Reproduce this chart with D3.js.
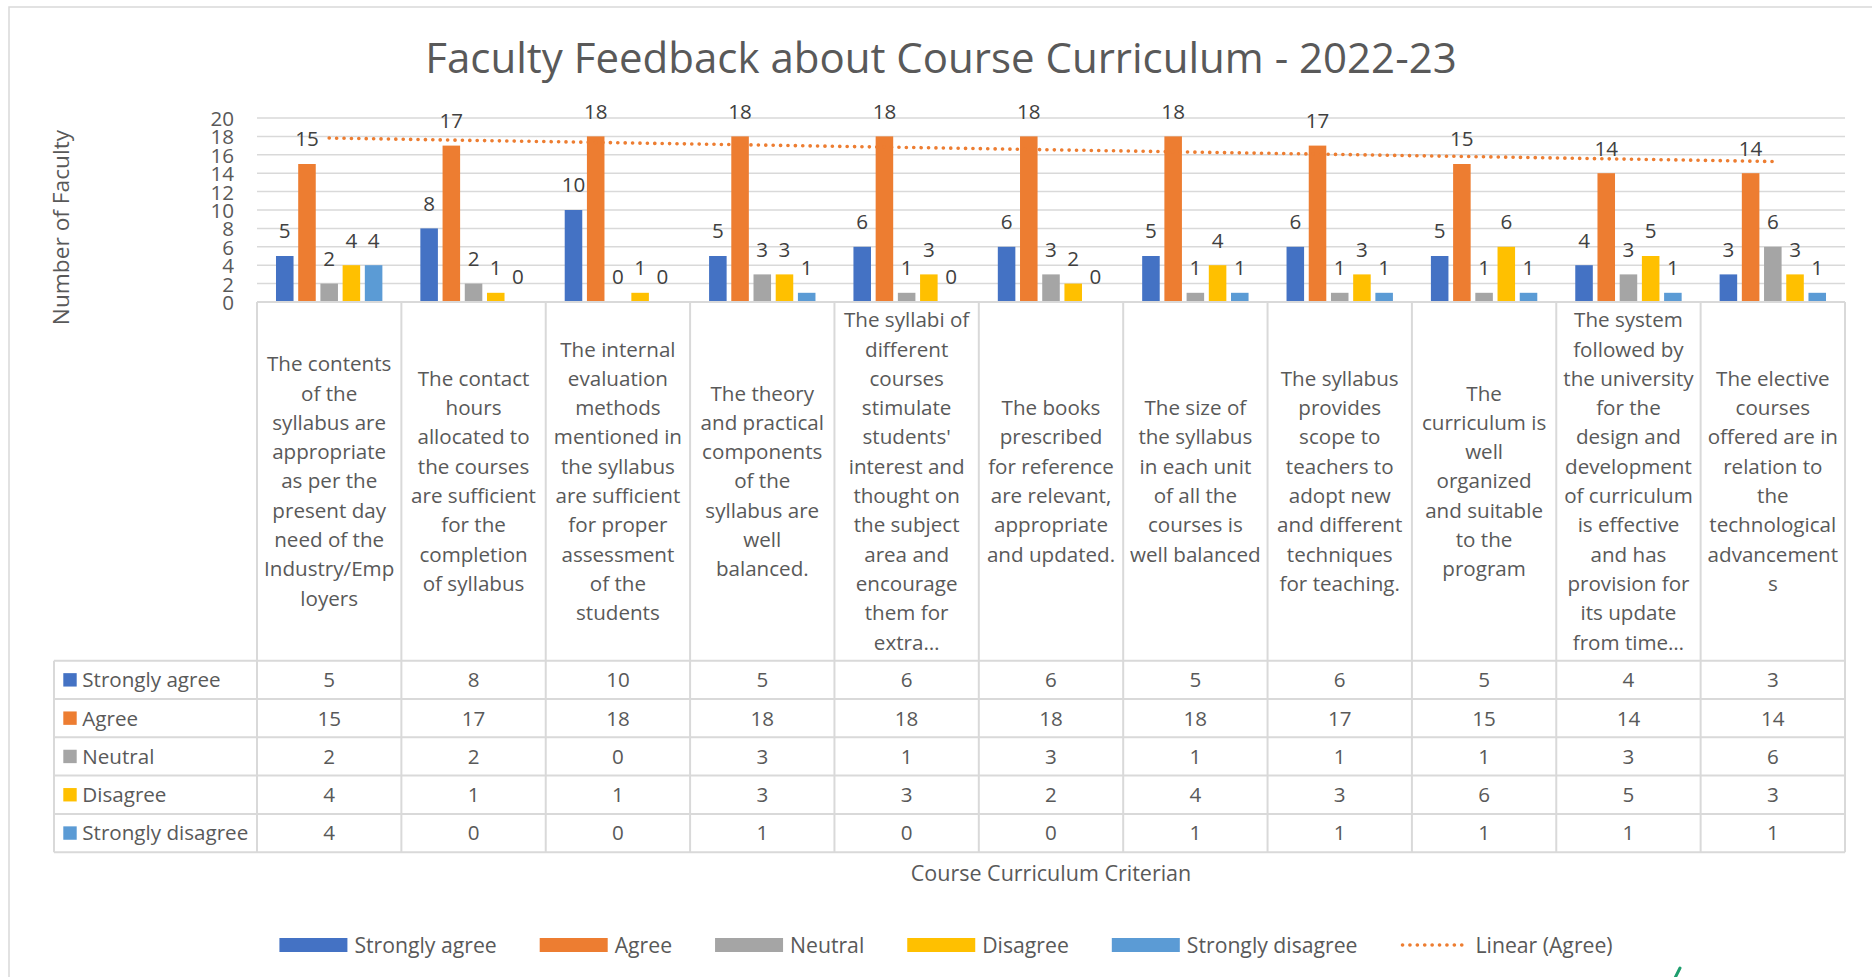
<!DOCTYPE html>
<html>
<head>
<meta charset="utf-8">
<script src="https://cdn.jsdelivr.net/npm/d3@7"></script>
<style>
  html, body { margin: 0; padding: 0; background: #ffffff; }
  svg { display: block; }
  text { font-family: "Open Sans", "Noto Sans", sans-serif; fill: #595959; }
</style>
</head>
<body>
<svg id="chart" width="1872" height="977"></svg>
<script>
// ---------------- DATA ----------------
const chartTitle = "Faculty Feedback about Course Curriculum - 2022-23";
const yAxisTitle = "Number of Faculty";
const xAxisTitle = "Course Curriculum Criterian";

const categories = [
  "The contents\nof the\nsyllabus are\nappropriate\nas per the\npresent day\nneed of the\nIndustry/Emp\nloyers",
  "The contact\nhours\nallocated to\nthe courses\nare sufficient\nfor the\ncompletion\nof syllabus",
  "The internal\nevaluation\nmethods\nmentioned in\nthe syllabus\nare sufficient\nfor proper\nassessment\nof the\nstudents",
  "The theory\nand practical\ncomponents\nof the\nsyllabus are\nwell\nbalanced.",
  "The syllabi of\ndifferent\ncourses\nstimulate\nstudents'\ninterest and\nthought on\nthe subject\narea and\nencourage\nthem for\nextra…",
  "The books\nprescribed\nfor reference\nare relevant,\nappropriate\nand updated.",
  "The size of\nthe syllabus\nin each unit\nof all the\ncourses is\nwell balanced",
  "The syllabus\nprovides\nscope to\nteachers to\nadopt new\nand different\ntechniques\nfor teaching.",
  "The\ncurriculum is\nwell\norganized\nand suitable\nto the\nprogram",
  "The system\nfollowed by\nthe university\nfor the\ndesign and\ndevelopment\nof curriculum\nis effective\nand has\nprovision for\nits update\nfrom time…",
  "The elective\ncourses\noffered are in\nrelation to\nthe\ntechnological\nadvancement\ns"
];

const seriesNames = ["Strongly agree", "Agree", "Neutral", "Disagree", "Strongly disagree"];
const stronglyAgree    = [5, 8, 10, 5, 6, 6, 5, 6, 5, 4, 3];
const agree            = [15, 17, 18, 18, 18, 18, 18, 17, 15, 14, 14];
const neutral          = [2, 2, 0, 3, 1, 3, 1, 1, 1, 3, 6];
const disagree         = [4, 1, 1, 3, 3, 2, 4, 3, 6, 5, 3];
const stronglyDisagree = [4, 0, 0, 1, 0, 0, 1, 1, 1, 1, 1];
const seriesColors = ["#4472C4", "#ED7D31", "#A5A5A5", "#FFC000", "#5B9BD5"];
const trendName = "Linear (Agree)";
const yTicks = [0, 2, 4, 6, 8, 10, 12, 14, 16, 18, 20];

// ---------------- LAYOUT ----------------
const series = [stronglyAgree, agree, neutral, disagree, stronglyDisagree];
const svg = d3.select("#chart");
const FS = 20.6;
const TXT = "#595959";
const GRID = "#D9D9D9";

const plotLeft = 257, plotRight = 1845;
const yZero = 302, yTop = 118;
const tableTop = 660.7, rowH = 38.3;
const tableLeft = 54;
const nRows = seriesNames.length;
const tableBottom = tableTop + rowH * nRows;

const x0 = d3.scaleBand().domain(d3.range(categories.length)).range([plotLeft, plotRight]).paddingInner(0).paddingOuter(0);
const x1 = d3.scaleBand().domain(d3.range(series.length)).range([0, x0.bandwidth()]).paddingInner(0.21).paddingOuter(0.855);
const y = d3.scaleLinear().domain([0, 20]).range([yZero, yTop]);

// chart outer border
svg.append("rect").attr("x", 9).attr("y", 7).attr("width", 1900).attr("height", 1000)
  .attr("fill", "none").attr("stroke", GRID).attr("stroke-width", 1.5);

// title
svg.append("text").attr("x", 941).attr("y", 73).attr("text-anchor", "middle")
  .style("font-size", "42px").text(chartTitle);

// gridlines
svg.append("g").selectAll("line").data(yTicks.filter(d => d > 0)).join("line")
  .attr("x1", plotLeft).attr("x2", plotRight)
  .attr("y1", d => y(d)).attr("y2", d => y(d))
  .attr("stroke", GRID).attr("stroke-width", 1.5);

// y axis (tick labels only)
const yAxis = d3.axisLeft(y).tickValues(yTicks).tickSize(0).tickPadding(0);
const yg = svg.append("g").attr("transform", `translate(234,0)`).call(yAxis);
yg.select(".domain").remove();
yg.selectAll("text").style("font-size", FS + "px").style("font-family", '"Open Sans", sans-serif')
  .attr("fill", TXT).attr("dy", "0.36em");

// y axis title
svg.append("text").attr("transform", "translate(61,227.5) rotate(-90)")
  .attr("text-anchor", "middle").attr("dy", "0.36em")
  .style("font-size", "22.7px").text(yAxisTitle);

// bars
const groups = svg.append("g").selectAll("g").data(categories).join("g")
  .attr("transform", (d, i) => `translate(${x0(i)},0)`);
groups.selectAll("rect").data((d, i) => series.map((s, k) => ({k, v: s[i]}))).join("rect")
  .attr("x", d => x1(d.k)).attr("width", x1.bandwidth())
  .attr("y", d => y(d.v)).attr("height", d => yZero - y(d.v))
  .attr("fill", d => seriesColors[d.k]);

// trendline (linear regression of Agree)
const xs = agree.map((d, i) => i + 1);
const mx = d3.mean(xs), my = d3.mean(agree);
const slope = d3.sum(xs.map((xv, i) => (xv - mx) * (agree[i] - my))) / d3.sum(xs.map(xv => (xv - mx) ** 2));
const icpt = my - slope * mx;
const trendPts = [1, categories.length].map(xv => [x0(xv - 1) + x0.bandwidth() / 2, y(icpt + slope * xv)]);
svg.append("path").attr("d", d3.line()(trendPts))
  .attr("stroke", "#ED7D31").attr("stroke-width", 3.6).attr("fill", "none")
  .attr("stroke-linecap", "round").attr("stroke-dasharray", "0.1 7.3");

// data labels
groups.selectAll("text.lbl").data((d, i) => series.map((s, k) => ({k, v: s[i]}))).join("text")
  .attr("class", "lbl")
  .attr("x", d => x1(d.k) + x1.bandwidth() / 2)
  .attr("y", d => y(d.v) - 25).attr("dy", "0.36em")
  .attr("text-anchor", "middle").style("font-size", FS + "px").style("fill", "#404040")
  .text(d => d.v);

// table lines
const tl = svg.append("g").attr("stroke", GRID).attr("stroke-width", 2);
tl.append("line").attr("x1", plotLeft).attr("x2", plotRight).attr("y1", yZero).attr("y2", yZero);
tl.selectAll("line.v").data(d3.range(categories.length + 1)).join("line").attr("class", "v")
  .attr("x1", i => i < categories.length ? x0(i) : plotRight).attr("x2", i => i < categories.length ? x0(i) : plotRight)
  .attr("y1", yZero).attr("y2", tableBottom);
tl.append("line").attr("x1", tableLeft).attr("x2", tableLeft).attr("y1", tableTop).attr("y2", tableBottom);
tl.selectAll("line.h").data(d3.range(nRows + 1)).join("line").attr("class", "h")
  .attr("x1", tableLeft).attr("x2", plotRight)
  .attr("y1", r => tableTop + r * rowH).attr("y2", r => tableTop + r * rowH);

// category labels
const lineH = 29.3, catMid = 481;
groups.each(function(d) {
  const lines = d.split("\n");
  const g = d3.select(this);
  lines.forEach((ln, j) => {
    g.append("text").attr("x", x0.bandwidth() / 2)
      .attr("y", catMid + (j - (lines.length - 1) / 2) * lineH).attr("dy", "0.36em")
      .attr("text-anchor", "middle").style("font-size", FS + "px").text(ln);
  });
});

// table row labels & values
seriesNames.forEach((name, r) => {
  const cy = tableTop + r * rowH + rowH / 2;
  svg.append("rect").attr("x", 63.3).attr("y", cy - 6.7).attr("width", 13.4).attr("height", 13.4).attr("fill", seriesColors[r]);
  svg.append("text").attr("x", 82.3).attr("y", cy).attr("dy", "0.36em").style("font-size", FS + "px").text(name);
  series[r].forEach((v, i) => {
    svg.append("text").attr("x", x0(i) + x0.bandwidth() / 2).attr("y", cy).attr("dy", "0.36em")
      .attr("text-anchor", "middle").style("font-size", FS + "px").text(v);
  });
});

// x axis title
svg.append("text").attr("x", (plotLeft + plotRight) / 2).attr("y", 873).attr("dy", "0.36em")
  .attr("text-anchor", "middle").style("font-size", "21.5px").text(xAxisTitle);

// legend
const legItems = seriesNames.map((n, i) => ({name: n, color: seriesColors[i], trend: false}))
  .concat([{name: trendName, color: "#ED7D31", trend: true}]);
const leg = svg.append("g");
let cx = 0;
const legY = 945;
legItems.forEach(it => {
  const g = leg.append("g").attr("transform", `translate(${cx},0)`);
  if (it.trend) {
    g.append("line").attr("x1", 2).attr("x2", 68).attr("y1", legY).attr("y2", legY)
      .attr("stroke", it.color).attr("stroke-width", 3.6).attr("stroke-linecap", "round").attr("stroke-dasharray", "0.1 7.3");
  } else {
    g.append("rect").attr("x", 0).attr("y", legY - 7).attr("width", 68).attr("height", 14).attr("fill", it.color);
  }
  const t = g.append("text").attr("x", 75).attr("y", legY).attr("dy", "0.36em").style("font-size", "21.2px").text(it.name);
  cx += 75 + t.node().getComputedTextLength() + 43;
});
const legW = cx - 43;
leg.attr("transform", `translate(${946 - legW / 2},0)`);

// small green mark at bottom
svg.append("line").attr("x1", 1674).attr("y1", 980).attr("x2", 1680).attr("y2", 968)
  .attr("stroke", "#1E9E6E").attr("stroke-width", 3).attr("stroke-linecap", "round");
</script>
</body>
</html>
